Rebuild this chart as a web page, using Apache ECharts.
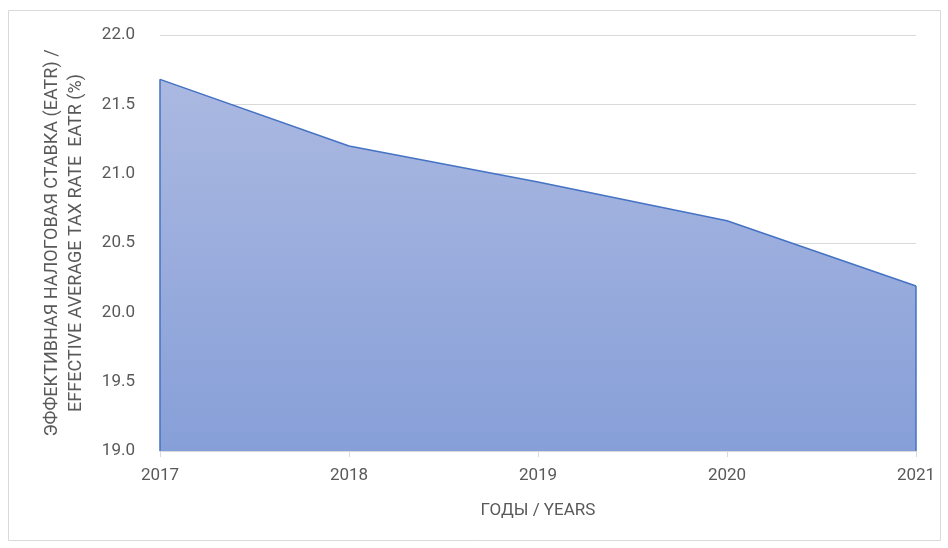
<!DOCTYPE html>
<html>
<head>
<meta charset="utf-8">
<script src="https://cdn.jsdelivr.net/npm/echarts@6/dist/echarts.min.js"></script>
<style>
  html, body { margin: 0; padding: 0; background: #fff; }
  #chart { width: 948px; height: 548px; }
</style>
</head>
<body>
<div id="chart"></div>
<script>
// data
const years = ['2017', '2018', '2019', '2020', '2021'];
const eatr = [21.68, 21.2, 20.94, 20.66, 20.19];
const yTicks = { min: 19, max: 22, step: 0.5 };

const myChart = echarts.init(document.getElementById('chart'));
const font = 'Roboto, "Liberation Sans", sans-serif';
const grey = '#595959';

myChart.setOption({
  animation: false,
  backgroundColor: '#fff',
  graphic: [{
    type: 'rect',
    shape: { x: 8.5, y: 10.5, width: 932, height: 530 },
    style: { fill: 'none', stroke: '#d9d9d9', lineWidth: 1 },
    silent: true
  }],
  grid: { left: 160, right: 32, top: 35, bottom: 97 },
  xAxis: {
    type: 'category',
    data: years,
    boundaryGap: false,
    name: 'ГОДЫ / YEARS',
    nameLocation: 'middle',
    nameGap: 51,
    nameTextStyle: { color: grey, fontSize: 17, fontFamily: font },
    axisLine: { lineStyle: { color: '#d9d9d9', width: 1 } },
    axisTick: { show: true, length: 6, lineStyle: { color: '#d9d9d9' } },
    axisLabel: { color: grey, fontSize: 17, fontFamily: font, margin: 16 },
    splitLine: { show: false }
  },
  yAxis: {
    type: 'value',
    min: yTicks.min,
    max: yTicks.max,
    interval: yTicks.step,
    name: 'ЭФФЕКТИВНАЯ НАЛОГОВАЯ СТАВКА (EATR) /\nEFFECTIVE AVERAGE TAX RATE  EATR (%)',
    nameLocation: 'middle',
    nameGap: 72,
    nameRotate: 90,
    nameTextStyle: { color: grey, fontSize: 18, fontFamily: font, lineHeight: 24 },
    axisLine: { show: false },
    axisTick: { show: false },
    axisLabel: {
      color: grey, fontSize: 17, fontFamily: font, margin: 25,
      formatter: v => v.toFixed(1)
    },
    splitLine: { lineStyle: { color: '#d9d9d9', width: 1 } }
  },
  series: [{
    type: 'line',
    data: eatr,
    symbol: 'none',
    lineStyle: { color: '#4472c4', width: 1.5 },
    areaStyle: {
      origin: 'start',
      opacity: 1,
      color: new echarts.graphic.LinearGradient(0, 0, 0, 1, [
        { offset: 0, color: '#abb9e1' },
        { offset: 1, color: '#879fd8' }
      ])
    },
    markLine: {
      silent: true,
      symbol: 'none',
      label: { show: false },
      lineStyle: { color: '#4472c4', width: 1.5, type: 'solid' },
      data: [
        [{ coord: [years[0], yTicks.min] }, { coord: [years[0], eatr[0]] }],
        [{ coord: [years[years.length - 1], yTicks.min] }, { coord: [years[years.length - 1], eatr[eatr.length - 1]] }]
      ]
    }
  }]
});
</script>
</body>
</html>
